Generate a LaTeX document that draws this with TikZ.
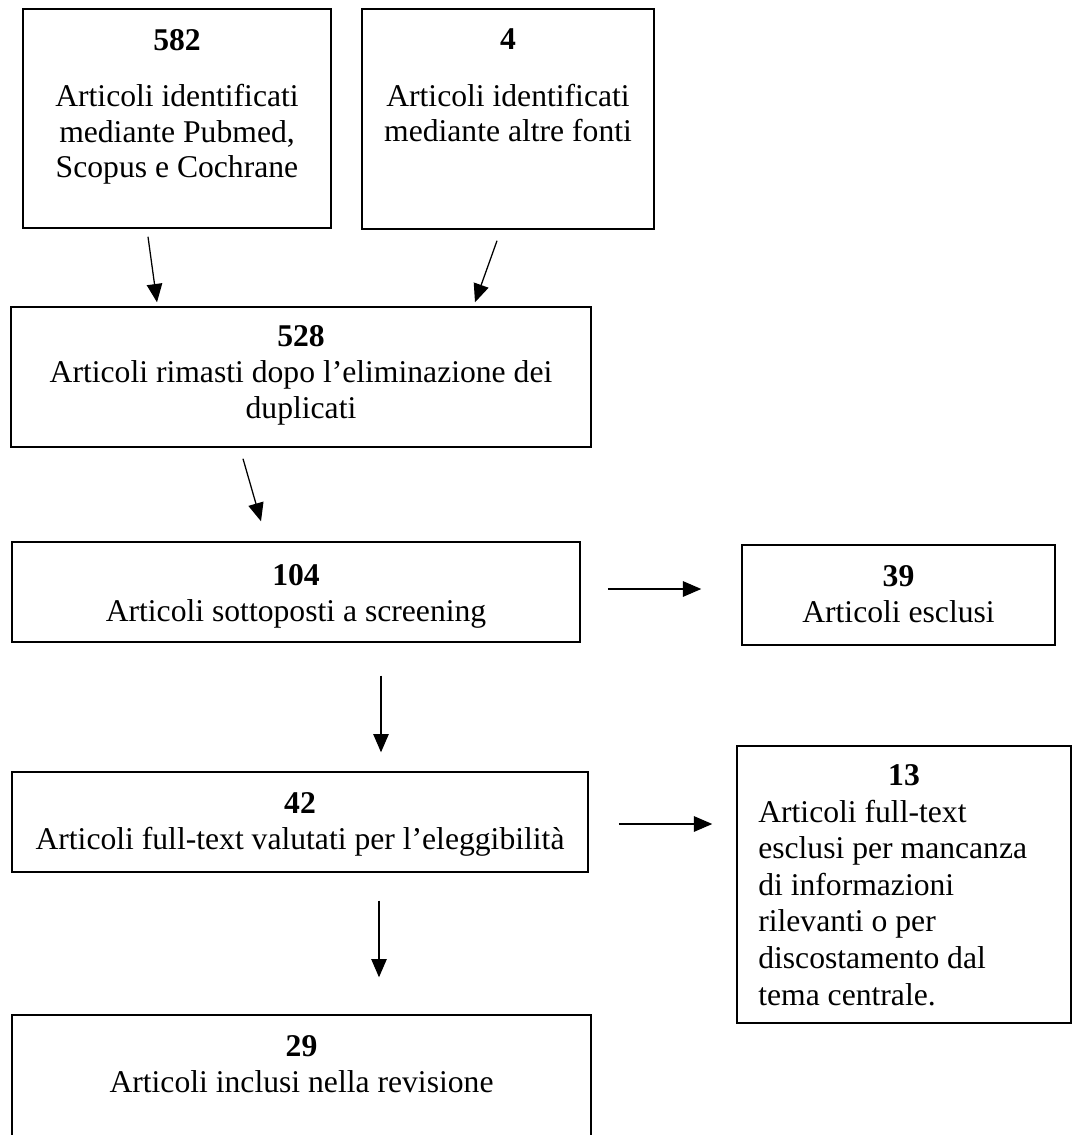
\documentclass[tikz,border=0pt]{standalone}
\usepackage{fontspec}
\setmainfont{Liberation Serif}
\usepackage{tikz}
\usetikzlibrary{arrows.meta}

\tikzset{
  box/.style={draw, line width=1pt, inner sep=0pt},
  txt/.style={align=center, inner sep=0pt, anchor=base, font=\fontsize{22.5}{25.5}\selectfont},
  flow/.style={->, line width=0.9pt}
}

\begin{document}
\begin{tikzpicture}[x=0.025cm,y=-0.025cm,>={Triangle[length=13pt,width=11pt]}]
			\useasboundingbox (0,0) rectangle (1074,1135);
			\clip (0,0) rectangle (1074,1135);
			% riquadri
			\node[box,minimum width=7.7cm,minimum height=5.475cm] (b582) at (177,118.5) {};
			\node[box,minimum width=7.3cm,minimum height=5.5cm] (b4) at (508,119) {};
			\node[box,minimum width=14.5cm,minimum height=3.5cm] (b528) at (301,377) {};
			\node[box,minimum width=14.2cm,minimum height=2.5cm] (b104) at (296,592) {};
			\node[box,minimum width=7.825cm,minimum height=2.5cm] (b39) at (898.5,595) {};
			\node[box,minimum width=14.4cm,minimum height=2.5cm] (b42) at (300,822) {};
			\node[box,minimum width=8.35cm,minimum height=6.925cm] (b13) at (904,884.5) {};
			\node[box,minimum width=14.475cm,minimum height=3.625cm] (b29) at (301.5,1087.5) {};
			% testi (ancorati alla base dell'ultima riga)
			\node[txt] (t582) at (177,178) {\textbf{582}\\[14.5pt]Articoli identificati\\mediante Pubmed,\\Scopus e Cochrane};
			\node[txt] (t4) at (508,142) {\textbf{4}\\[14.5pt]Articoli identificati\\mediante altre fonti};
			\node[txt] (t528) at (301,418) {\textbf{528}\\Articoli rimasti dopo l’eliminazione dei\\duplicati};
			\node[txt] (t104) at (296,621) {\textbf{104}\\Articoli sottoposti a screening};
			\node[txt] (t39) at (898.5,622) {\textbf{39}\\Articoli esclusi};
			\node[txt] (t42) at (300,849) {\textbf{42}\\Articoli full-text valutati per l’eleggibilità};
			\node[txt] (n13) at (904,785) {\textbf{13}};
			\node[txt,anchor=base west,align=left,font=\fontsize{22.5}{26}\selectfont] (t13) at (758,1005) {Articoli full-text\\esclusi per mancanza\\di informazioni\\rilevanti o per\\discostamento dal\\tema centrale.};
			\node[txt] (t29) at (301.5,1092) {\textbf{29}\\Articoli inclusi nella revisione};
			% frecce
			\draw[flow] ([shift={(-29,8)}]b582.south) -- ([shift={(-144,-4)}]b528.north);
			\draw[flow] ([shift={(-11,11)}]b4.south) -- ([shift={(174,-4)}]b528.north);
			\draw[flow] ([shift={(-58,11)}]b528.south) -- ([shift={(-35,-20)}]b104.north);
			\draw[flow] ([shift={(85,33)}]b104.south) -- ([shift={(81,-19)}]b42.north);
			\draw[flow] ([shift={(27,-3)}]b104.east) -- ([shift={(-40,-6)}]b39.west);
			\draw[flow] ([shift={(30,2)}]b42.east) -- ([shift={(-24,-60.5)}]b13.west);
			\draw[flow] ([shift={(79,28)}]b42.south) -- ([shift={(77.5,-37)}]b29.north);
\end{tikzpicture}
\end{document}
